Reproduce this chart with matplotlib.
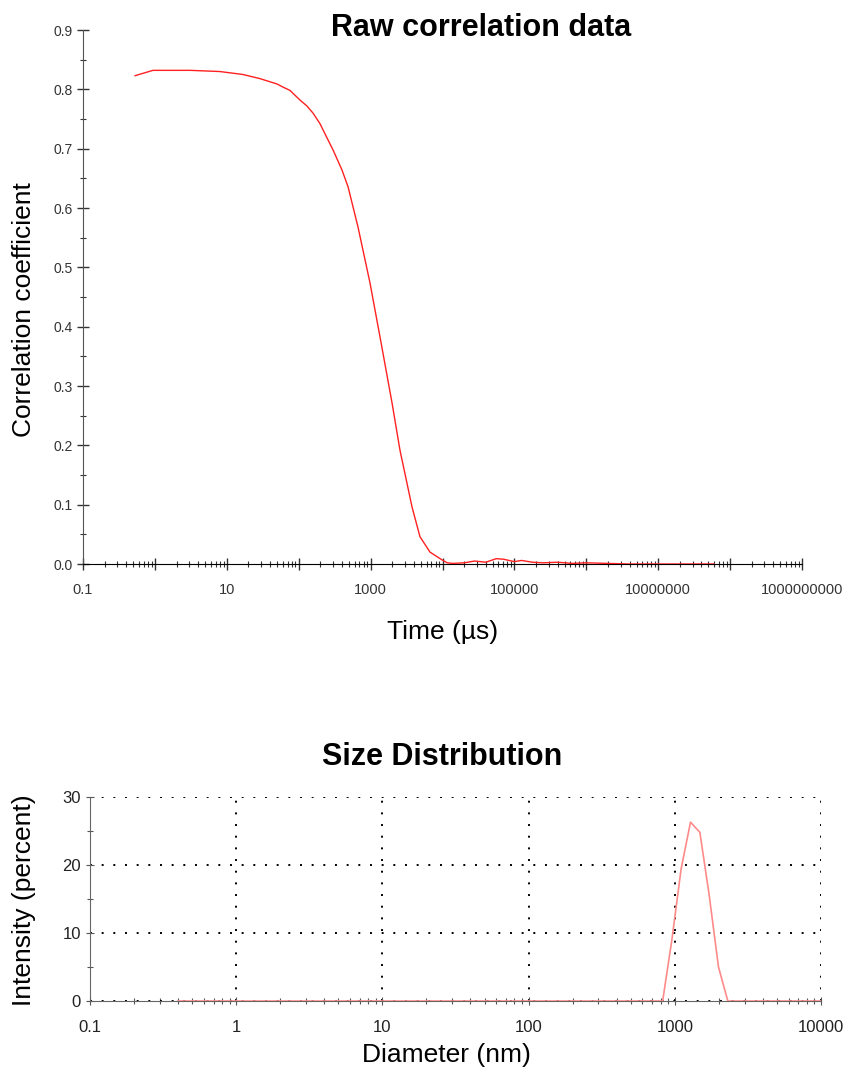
import matplotlib
matplotlib.use('Agg')
import matplotlib.pyplot as plt
import matplotlib.ticker as mticker
import numpy as np

# datos
tiempo_us = [0.53, 0.94, 3.1, 8.0, 16.8, 29, 50, 60, 76, 104, 130, 158, 198, 248, 300, 400, 485,
             668, 980, 1350, 1990, 2560, 3770, 4860, 6700, 9840, 11600,
             14000, 20000, 28000, 40000, 56000, 71000, 100000, 126000, 178000,
             250000, 400000, 630000, 1000000, 2000000, 4000000, 10000000,
             30000000, 60000000]
corr = [0.823, 0.832, 0.832, 0.830, 0.825, 0.818, 0.809, 0.804, 0.798, 0.782, 0.772, 0.760,
        0.742, 0.718, 0.698, 0.664, 0.636, 0.568, 0.474, 0.383, 0.271, 0.192, 0.096,
        0.046, 0.020, 0.007, 0.002,
        0.001, 0.002, 0.005, 0.003, 0.009, 0.008, 0.004, 0.006, 0.003,
        0.002, 0.003, 0.001, 0.002, 0.001, 0.0, 0.0, 0.0, 0.0]

diametro_nm = [0.4, 826, 955, 1106, 1281, 1484, 1718, 1990, 2305, 10000]
intensidad = [0, 0, 9.0, 19.5, 26.3, 24.8, 15.6, 5.0, 0, 0]

x1_labels = ['0.1', '', '10', '', '1000', '', '100000', '', '10000000', '', '1000000000']
x2_ticks = [0.1, 1, 10, 100, 1000, 10000]
x2_labels = ['0.1', '1', '10', '100', '1000', '10000']

plt.rcParams['font.family'] = ['Liberation Sans', 'DejaVu Sans']

W, H = 843, 1077
fig = plt.figure(figsize=(W / 100, H / 100), dpi=100)

def ax_rect(l, t, r, b):
    return [l / W, 1 - b / H, (r - l) / W, (b - t) / H]

### grafico de correlacion
ax1 = fig.add_axes(ax_rect(83, 30, 802, 564))
ax1.plot(tiempo_us, corr, color='#ff2020', lw=1.0, zorder=3)
ax1.set_xscale('log')
ax1.set_xlim(0.1, 1e9)
ax1.set_ylim(0, 0.9)
ax1.spines['top'].set_visible(False)
ax1.spines['right'].set_visible(False)
ax1.spines['left'].set_color('#555555')
ax1.spines['bottom'].set_color('black')
ax1.xaxis.set_major_locator(mticker.FixedLocator([10.0 ** k for k in range(-1, 10)]))
ax1.xaxis.set_major_formatter(mticker.FixedFormatter(x1_labels))
ax1.xaxis.set_minor_locator(mticker.LogLocator(base=10, subs=np.arange(2, 10), numticks=20))
ax1.xaxis.set_minor_formatter(mticker.NullFormatter())
ax1.set_yticks(np.arange(0, 0.91, 0.1))
ax1.set_yticklabels(['%.1f' % v for v in np.arange(0, 0.91, 0.1)])
ax1.yaxis.set_minor_locator(mticker.MultipleLocator(0.05))
ax1.tick_params(axis='both', which='major', direction='inout', length=8, width=1,
                labelsize=10, colors='#333333')
ax1.tick_params(axis='both', which='minor', direction='inout', length=5, width=0.8,
                colors='#333333')
ax1.tick_params(axis='x', which='major', pad=10, labelsize=10.5)
ax1.set_xlabel('Time (µs)', fontsize=19)
ax1.xaxis.set_label_coords(0.5, -0.105)
ax1.set_ylabel('Correlation coefficient', fontsize=19)
ax1.yaxis.set_label_coords(-0.066, 0.476)
fig.text(481 / W, 1 - 28 / H, 'Raw correlation data', ha='center', va='center',
         fontsize=22, fontweight='bold')

### grafico de distribucion de tamanos
ax2 = fig.add_axes(ax_rect(90, 797, 821, 1001))
ax2.plot(diametro_nm, intensidad, color='#ff8a8a', lw=1.2, zorder=3)
ax2.set_xscale('log')
ax2.set_xlim(0.1, 10000)
ax2.set_ylim(0, 30)
ax2.set_xticks(x2_ticks)
ax2.set_xticklabels(x2_labels)
ax2.xaxis.set_minor_locator(mticker.LogLocator(base=10, subs=np.arange(2, 10), numticks=20))
ax2.xaxis.set_minor_formatter(mticker.NullFormatter())
ax2.set_yticks([0, 10, 20, 30])
ax2.yaxis.set_minor_locator(mticker.MultipleLocator(5))
ax2.grid(True, which='major', linestyle=(0, (1, 5)), color='black', lw=1.4)
for s in ['top', 'right']:
    ax2.spines[s].set_visible(False)
ax2.spines['left'].set_color('#666666')
ax2.spines['bottom'].set_color('#666666')
ax2.tick_params(axis='both', which='major', direction='inout', length=6, width=0.8,
                labelsize=12, colors='#555555', labelcolor='#222222')
ax2.tick_params(axis='both', which='minor', direction='inout', length=4, width=0.8,
                colors='#555555')
ax2.tick_params(axis='x', which='major', pad=11)
ax2.set_xlabel('Diameter (nm)', fontsize=19)
ax2.xaxis.set_label_coords(0.488, -0.205)
ax2.set_ylabel('Intensity (percent)', fontsize=19)
ax2.yaxis.set_label_coords(-0.074, 0.495)
fig.text(442 / W, 1 - 757 / H, 'Size Distribution', ha='center', va='center',
         fontsize=22, fontweight='bold')

fig.savefig('out.png', dpi=100)
